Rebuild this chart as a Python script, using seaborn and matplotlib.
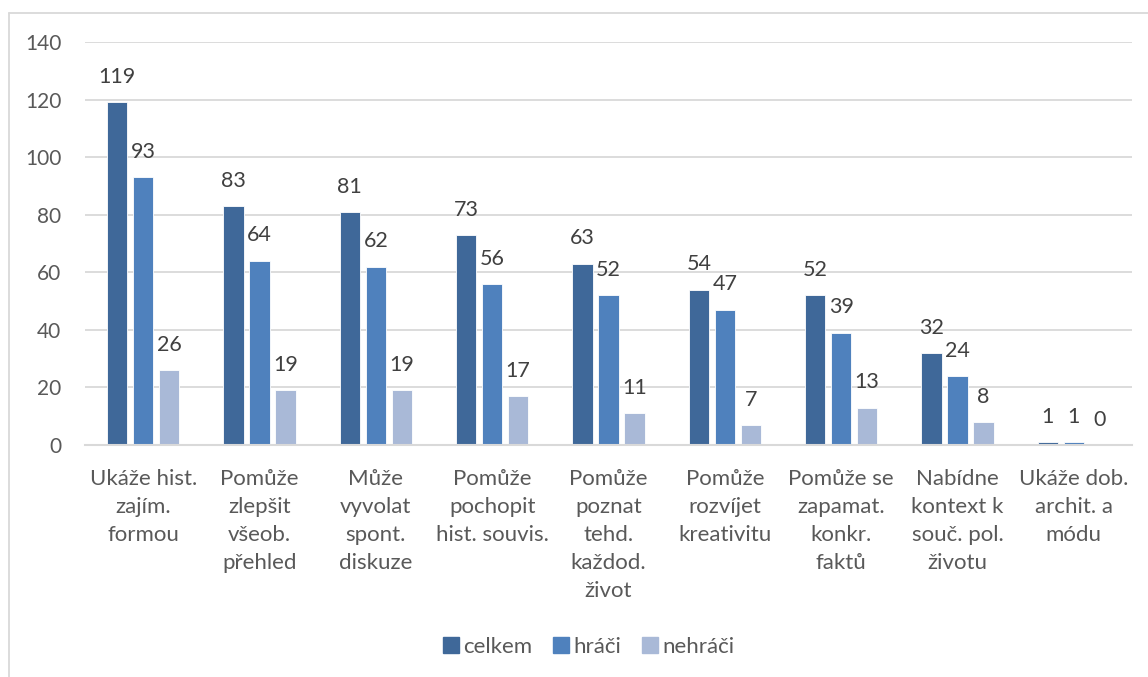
import matplotlib
matplotlib.use("Agg")
import matplotlib.pyplot as plt
from matplotlib.lines import Line2D
import seaborn as sns
import pandas as pd

categories = [
    "Ukáže hist.\nzajím.\nformou",
    "Pomůže\nzlepšit\nvšeob.\npřehled",
    "Může\nvyvolat\nspont.\ndiskuze",
    "Pomůže\npochopit\nhist. souvis.",
    "Pomůže\npoznat\ntehd.\nkaždod.\nživot",
    "Pomůže\nrozvíjet\nkreativitu",
    "Pomůže se\nzapamat.\nkonkr.\nfaktů",
    "Nabídne\nkontext k\nsouč. pol.\nživotu",
    "Ukáže dob.\narchit. a\nmódu",
]
series_names = ["celkem", "hráči", "nehráči"]
celkem = [119, 83, 81, 73, 63, 54, 52, 32, 1]
hraci = [93, 64, 62, 56, 52, 47, 39, 24, 1]
nehraci = [26, 19, 19, 17, 11, 7, 13, 8, 0]
y_ticks = [0, 20, 40, 60, 80, 100, 120, 140]

colors = ["#3F6899", "#4F81BD", "#A9B9D7"]
text_color = "#595959"
grid_color = "#D9D9D9"

df = pd.DataFrame({
    "kategorie": categories * 3,
    "skupina": [s for s in series_names for _ in categories],
    "hodnota": celkem + hraci + nehraci,
})

sns.set_theme(style="white")
plt.rcParams["font.family"] = ["Lato", "DejaVu Sans"]

fig = plt.figure(figsize=(11.48, 6.77), dpi=100)
ax = fig.add_axes([85 / 1148, 1 - 445 / 677, (1132 - 85) / 1148, (445 - 42) / 677])

sns.barplot(
    data=df, x="kategorie", y="hodnota", hue="skupina",
    order=categories, hue_order=series_names, palette=colors,
    saturation=1, width=0.67, gap=0.22, edgecolor="white", linewidth=0.6,
    legend=False, ax=ax,
)

for cont in ax.containers:
    ax.bar_label(cont, fmt="%d", padding=11, fontsize=15.5, color="#404040")

ax.set_ylim(0, 140)
ax.set_xlim(-0.5, len(categories) - 0.5)
ax.set_yticks(y_ticks)
ax.set_yticklabels([str(t) for t in y_ticks])
ax.set_xlabel("")
ax.set_ylabel("")
ax.yaxis.grid(True, color=grid_color, linewidth=1.3)
ax.set_axisbelow(True)
for side in ["top", "right", "left"]:
    ax.spines[side].set_visible(False)
ax.spines["bottom"].set_color(grid_color)
ax.spines["bottom"].set_linewidth(1.5)
ax.tick_params(axis="y", length=0, pad=17, labelsize=15, labelcolor=text_color)
ax.tick_params(axis="x", length=0, pad=17, labelsize=16, labelcolor=text_color)
for lbl in ax.get_xticklabels():
    lbl.set_linespacing(1.5)
    lbl.set_verticalalignment("top")

handles = [plt.Rectangle((0, 0), 1, 1, color=c) for c in colors]
fig.legend(
    handles, series_names, loc="center", bbox_to_anchor=(0.513, 1 - 647 / 677),
    ncol=3, frameon=False, fontsize=16, labelcolor=text_color,
    handlelength=0.7, handleheight=0.7, handletextpad=0.2, columnspacing=0.95,
)

# outer chart frame (left and top edges)
fx0, fy0 = 8.5 / 1148, 1 - 12.5 / 677
fig.add_artist(Line2D([fx0, 1.0], [fy0, fy0], transform=fig.transFigure,
                      color=grid_color, linewidth=1.3))
fig.add_artist(Line2D([fx0, fx0], [0.0, fy0], transform=fig.transFigure,
                      color=grid_color, linewidth=1.3))

fig.savefig("out.png", dpi=100, facecolor="white")
